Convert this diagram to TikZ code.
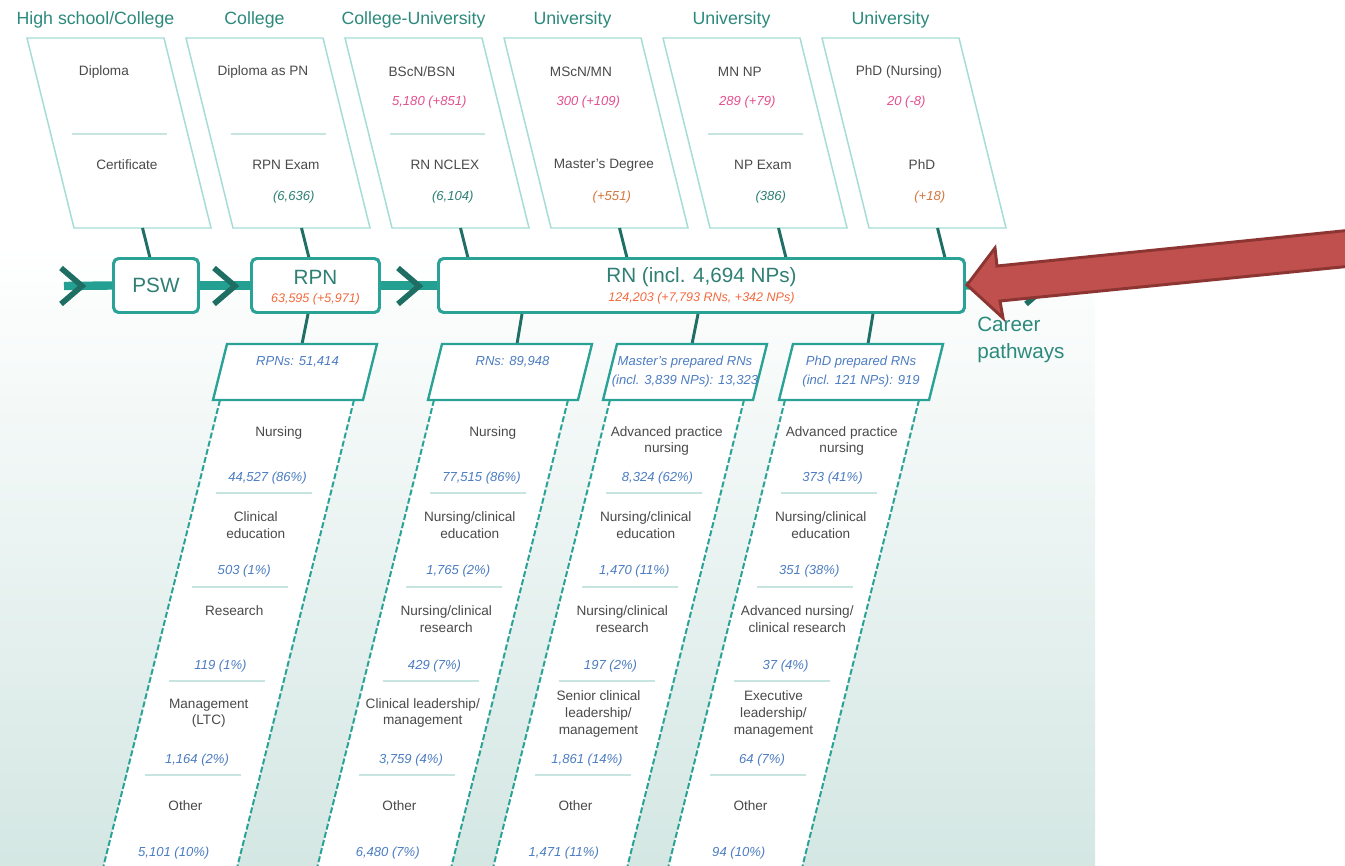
\documentclass[tikz,border=0pt]{standalone}
\usepackage{fontspec}
\setmainfont{Liberation Sans}
\usetikzlibrary{calc}
\definecolor{bgbot}{HTML}{D4E7E3}
\definecolor{barline}{HTML}{24A092}
\definecolor{chevdark}{HTML}{1E6E64}
\definecolor{conndark}{HTML}{1F6F66}
\definecolor{boxteal}{HTML}{2AA396}
\definecolor{topborder}{HTML}{A5DCD6}
\definecolor{hdrteal}{HTML}{2C8A7D}
\definecolor{bartext}{HTML}{2F7F74}
\definecolor{txtgray}{HTML}{4A4A4A}
\definecolor{numblue}{HTML}{4C7DC2}
\definecolor{numpink}{HTML}{E4508E}
\definecolor{numteal}{HTML}{2C7F76}
\definecolor{numorange}{HTML}{D4773F}
\definecolor{numred}{HTML}{F26A3D}
\definecolor{divcol}{HTML}{C6E5E0}
\definecolor{arrowfill}{HTML}{C0504D}
\definecolor{arrowdraw}{HTML}{8C3532}
\newcommand\fhdr{\fontsize{13.3}{16}\selectfont}
\newcommand\flbl{\fontsize{10.2}{12.4}\selectfont}
\newcommand\fnum{\fontsize{9.8}{12}\selectfont\itshape}
\newcommand\fhnum{\fontsize{9.8}{14.3}\selectfont\itshape}
\newcommand\fbig{\fontsize{15.5}{20.25}\selectfont}
\newcommand\fbarnum{\fontsize{9.4}{11}\selectfont\itshape}
\begin{document}
\begin{tikzpicture}[x=0.75pt,y=-0.75pt,
  lbl/.style={font=\flbl, text=txtgray, align=center, inner sep=0pt},
  num/.style={font=\fnum, text=numblue, inner sep=0pt},
  hnum/.style={font=\fhnum, text=numblue, align=center, inner sep=0pt},
  hdr/.style={font=\fhdr, text=hdrteal, inner sep=0pt},
  topbox/.style={draw=topborder, line width=1.1pt, fill=white},
  coledge/.style={draw=boxteal, line width=1.5pt, dash pattern=on 4.5pt off 1.8pt},
  headbox/.style={draw=boxteal, line width=1.8pt, fill=white, line join=miter},
  divider/.style={draw=divcol, line width=0.9pt},
  conn/.style={draw=conndark, line width=2.2pt},
  barlinestyle/.style={draw=barline, line width=6.3pt},
  chev/.style={draw=chevdark, line width=4.2pt, line join=miter},
  barbox/.style={draw=boxteal, line width=2.2pt, fill=white, rounded corners=4pt, minimum height=40.5pt, inner sep=0pt},
  bartxt/.style={font=\fbig, text=bartext, inner sep=0pt},
  barnum/.style={font=\fbarnum, text=numred, inner sep=0pt}
]
\useasboundingbox (0,0) rectangle (1345,866);
\fill[white] (0,0) rectangle (1345,866);
% background gradient
\shade[top color=white, bottom color=bgbot] (0,245) rectangle (1095,866);

% ---------- top headers ----------
\node[hdr] (h1) at (95.5,20) {High school/College};
\node[hdr] (h2) at (254.5,20) {College};
\node[hdr] (h3) at (413.5,20) {College-University};
\node[hdr] (h4) at (572.5,20) {University};
\node[hdr] (h5) at (731.5,20) {University};
\node[hdr] (h6) at (890.5,20) {University};

% ---------- top parallelograms ----------
\foreach \x in {27,186,345,504,663,822}{
  \draw[topbox] (\x,38) -- ++(137,0) -- ++(47,190) -- ++(-137,0) -- cycle;
}
% dividers in top boxes 1,2,3,5
\foreach \x in {27,186,345,663}{
  \draw[divider] ({\x+92.25-47.5},134) -- ({\x+92.25+47.5},134);
}
% box 1
\node[lbl] (t1a) at (103.9,72) {Diploma};
\node[lbl] (t1b) at (126.9,165) {Certificate};
% box 2
\node[lbl] (t2a) at (262.9,72) {Diploma as PN};
\node[lbl] (t2b) at (285.9,165) {RPN Exam};
\node[num, text=numteal] (t2c) at (293.8,197) {(6,636)};
% box 3
\node[lbl] (t3a) at (421.9,72) {BScN/BSN};
\node[num, text=numpink] (t3n) at (429.3,102) {5,180 (+851)};
\node[lbl] (t3b) at (444.9,165) {RN NCLEX};
\node[num, text=numteal] (t3c) at (452.8,197) {(6,104)};
% box 4
\node[lbl] (t4a) at (580.9,72) {MScN/MN};
\node[num, text=numpink] (t4n) at (588.3,102) {300 (+109)};
\node[lbl] (t4b) at (603.9,165) {Master's Degree};
\node[num, text=numorange] (t4c) at (611.8,197) {(+551)};
% box 5
\node[lbl] (t5a) at (739.9,72) {MN NP};
\node[num, text=numpink] (t5n) at (747.3,102) {289 (+79)};
\node[lbl] (t5b) at (762.9,165) {NP Exam};
\node[num, text=numteal] (t5c) at (770.8,197) {(386)};
% box 6
\node[lbl] (t6a) at (898.9,72) {PhD (Nursing)};
\node[num, text=numpink] (t6n) at (906.3,102) {20 (-8)};
\node[lbl] (t6b) at (921.9,165) {PhD};
\node[num, text=numorange] (t6c) at (929.8,197) {(+18)};

% ---------- connectors from top boxes ----------
\foreach \i/\x in {1/27,2/186,3/345,4/504,5/663,6/822}{
  \coordinate (tb\i) at ({\x+115.5},228);
  \coordinate (bt\i) at ({\x+123.3},259);
}
\foreach \i in {1,...,6}{ \draw[conn] (tb\i) -- (bt\i); }

% ---------- main bar ----------
\coordinate (barstart) at (64,286);
\coordinate (barend) at (1045,286);
\node[barbox, minimum width=63.75pt, font=\fbig, text=bartext] (psw) at (156,285.5) {PSW};
\node[barbox, minimum width=96pt] (rpn) at (315.5,285.5) {};
\node[barbox, minimum width=394.5pt] (rn) at (701.5,285.5) {};
\draw[barlinestyle] (barstart) -- (psw.west);
\draw[barlinestyle] (psw.east) -- (rpn.west);
\draw[barlinestyle] (rpn.east) -- (rn.west);
\draw[barlinestyle] (rn.east) -- (barend);
% redraw boxes on top of line
\node[barbox, minimum width=63.75pt, font=\fbig, text=bartext] at (psw.center) {PSW};
\node[barbox, minimum width=96pt] at (rpn.center) {};
\node[barbox, minimum width=394.5pt] at (rn.center) {};
\node[bartxt] (rpnt) at (315.5,277) {RPN};
\node[barnum] (rpnn) at (315.5,299.5) {63,595 (+5,971)};
\node[bartxt] (rnt) at (701.5,277) {RN (incl. 4,694 NPs)};
\node[barnum] (rnn) at (701.5,298.5) {124,203 (+7,793 RNs, +342 NPs)};
% chevrons
\foreach \c/\x in {ch1/82,ch2/235,ch3/419,ch4/1047}{
  \coordinate (\c) at (\x,286);
  \draw[chev] ($(\c)+(-21,-18)$) -- (\c) -- ($(\c)+(-21,18)$);
}
\node[font=\fbig, text=hdrteal, align=left, anchor=north west, inner sep=0pt] (career) at (977,317) {Career\\pathways};

% ---------- lower connectors ----------
\foreach \i/\a/\b in {1/308/302,2/522/517,3/698/692,4/873/868}{
  \coordinate (lb\i) at (\a,314);
  \coordinate (lh\i) at (\b,344);
  \draw[conn] (lb\i) -- (lh\i);
}

% ---------- columns ----------
\foreach \x in {220,434,610,785}{
  \fill[white] (\x,400) -- ({\x+134},400) -- ({\x+134-116.5},866) -- ({\x-116.5},866) -- cycle;
  \draw[coledge] (\x,400) -- ({\x-116.5},866);
  \draw[coledge] ({\x+134},400) -- ({\x+134-116.5},866);
}
% header parallelograms
\foreach \x in {227,442,617,793}{
  \draw[headbox] (\x,344) -- ({\x+150},344) -- ({\x+136},400) -- ({\x-14},400) -- cycle;
}
\node[hnum] (hd1) at (297.5,362) {RPNs: 51,414};
\node[hnum] (hd2) at (512.5,362) {RNs: 89,948};
\node[hnum] (hd3) at (685,371.5) {Master's prepared RNs\\(incl. 3,839 NPs): 13,323};
\node[hnum] (hd4) at (861,371.5) {PhD prepared RNs\\(incl. 121 NPs): 919};

% dividers in columns
\foreach \c in {287,501,677,852}{
  \foreach \y in {493,587,681,775}{
    \draw[divider] ({\c-0.25*(\y-400)-48},\y) -- ({\c-0.25*(\y-400)+48},\y);
  }
}

% column 1
\node[lbl] (c1l1) at (278.75,433) {Nursing};
\node[num] (c1n1) at (267.5,478) {44,527 (86\%)};
\node[lbl] (c1l2) at (255.75,525) {Clinical\\education};
\node[num] (c1n2) at (244.25,571) {503 (1\%)};
\node[lbl] (c1l3) at (234.25,611) {Research};
\node[num] (c1n3) at (220.5,666) {119 (1\%)};
\node[lbl] (c1l4) at (208.75,713) {Management\\(LTC)};
\node[num] (c1n4) at (197,760) {1,164 (2\%)};
\node[lbl] (c1l5) at (185.5,806) {Other};
\node[num] (c1n5) at (173.75,853) {5,101 (10\%)};
% column 2
\node[lbl] (c2l1) at (492.75,433) {Nursing};
\node[num] (c2n1) at (481.5,478) {77,515 (86\%)};
\node[lbl] (c2l2) at (469.75,525) {Nursing/clinical\\education};
\node[num] (c2n2) at (458.25,571) {1,765 (2\%)};
\node[lbl] (c2l3) at (446.25,619) {Nursing/clinical\\research};
\node[num] (c2n3) at (434.5,666) {429 (7\%)};
\node[lbl] (c2l4) at (422.75,713) {Clinical leadership/\\management};
\node[num] (c2n4) at (411,760) {3,759 (4\%)};
\node[lbl] (c2l5) at (399.5,806) {Other};
\node[num] (c2n5) at (387.75,853) {6,480 (7\%)};
% column 3
\node[lbl] (c3l1) at (666.75,441) {Advanced practice\\nursing};
\node[num] (c3n1) at (657.5,478) {8,324 (62\%)};
\node[lbl] (c3l2) at (645.75,525) {Nursing/clinical\\education};
\node[num] (c3n2) at (634.25,571) {1,470 (11\%)};
\node[lbl] (c3l3) at (622.25,619) {Nursing/clinical\\research};
\node[num] (c3n3) at (610.5,666) {197 (2\%)};
\node[lbl] (c3l4) at (598.5,714) {Senior clinical\\leadership/\\management};
\node[num] (c3n4) at (587,760) {1,861 (14\%)};
\node[lbl] (c3l5) at (575.5,806) {Other};
\node[num] (c3n5) at (563.75,853) {1,471 (11\%)};
% column 4
\node[lbl] (c4l1) at (841.75,441) {Advanced practice\\nursing};
\node[num] (c4n1) at (832.5,478) {373 (41\%)};
\node[lbl] (c4l2) at (820.75,525) {Nursing/clinical\\education};
\node[num] (c4n2) at (809.25,571) {351 (38\%)};
\node[lbl] (c4l3) at (797.25,619) {Advanced nursing/\\clinical research};
\node[num] (c4n3) at (785.5,666) {37 (4\%)};
\node[lbl] (c4l4) at (773.5,714) {Executive\\leadership/\\management};
\node[num] (c4n4) at (762,760) {64 (7\%)};
\node[lbl] (c4l5) at (750.5,806) {Other};
\node[num] (c4n5) at (738.75,853) {94 (10\%)};

% ---------- red block arrow ----------
\draw[fill=arrowfill, draw=arrowdraw, line width=2.2pt, line join=miter]
  (1352,230) -- (997,266) -- (995,248) -- (967,285) -- (1003,318) -- (1000,301) -- (1352,266) -- cycle;
\end{tikzpicture}
\end{document}
